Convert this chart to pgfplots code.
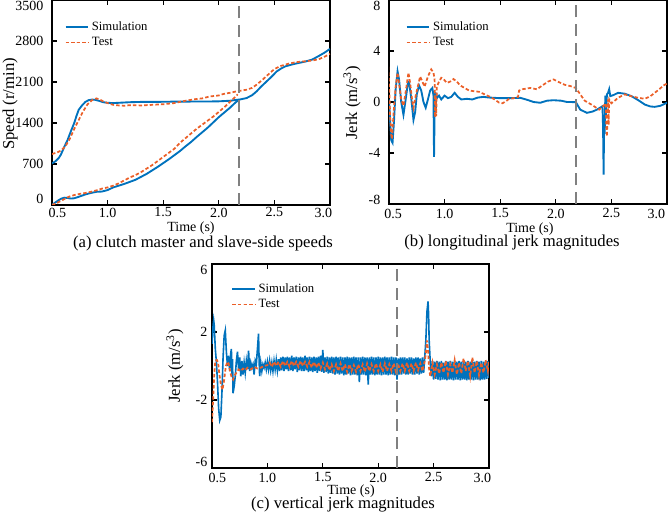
\documentclass[border=0pt]{standalone}
\usepackage{pgfplots}
\pgfplotsset{compat=1.18}
\usepackage{fontspec}
\setmainfont{Liberation Serif}
\definecolor{simblue}{RGB}{0,114,189}
\definecolor{testorange}{RGB}{235,95,40}
\definecolor{vgray}{RGB}{128,128,128}
\pgfplotsset{
  myaxis/.style={
    scale only axis,
    anchor=south west,
    xmin=0.5, xmax=3.0,
    xtick={0.5,1.0,1.5,2.0,2.5,3.0},
    xticklabels={{\kern8pt 0.5},1.0,1.5,2.0,2.5,{3.0\kern10pt}},
    /pgf/number format/assume math mode=true,
    tick align=inside,
    major tick length=4pt,
    axis line style={line width=0.9pt},
    every tick/.style={black,line width=0.9pt},
    ticklabel style={font=\fontsize{10.5}{12}\selectfont},
    yticklabel style={text height=7pt,text depth=0pt},
    label style={font=\fontsize{10.5}{12}\selectfont},
    legend style={draw=none,fill=none,font=\fontsize{9.5}{11}\selectfont,anchor=north west,
      legend cell align=left,row sep=-0.5pt},
    clip=true,
  },
  sim/.style={simblue,line width=1.4pt},
  tst/.style={testorange,line width=1.3pt,dash pattern=on 2.6pt off 1.6pt},
  vline/.style={vgray,line width=1.2pt,dash pattern=on 9pt off 5pt,forget plot},
}
\begin{document}
\begin{tikzpicture}
\path[use as bounding box] (0,0) rectangle (501.75pt,391.5pt);
% ---------------- (a)
\begin{axis}[myaxis,
  at={(39pt,237.75pt)}, width=208.5pt, height=153.75pt,
  ymin=0, ymax=3500, ytick={0,700,1400,2100,2800,3500},
  yticklabels={\raisebox{4.3pt}{0},700,1400,2100,2800,\raisebox{-4.5pt}{3500}},
  yticklabel style={xshift=-3pt},
  xticklabel style={yshift=1.5pt},
  xlabel={Time (s)}, ylabel={Speed (r/min)},
  xlabel style={at={(axis description cs:0.5,-0.112)},anchor=center},
  ylabel style={at={(axis description cs:-0.151,0.493)},anchor=center,font=\fontsize{12.5}{14}\selectfont},
  legend style={at={(axis description cs:0.03,0.92)}},
]
\addplot[sim] coordinates {(0.50,710) (0.53,745) (0.56,800) (0.58,860) (0.61,990) (0.64,1110) (0.67,1260) (0.70,1400) (0.72,1520) (0.74,1625) (0.77,1700) (0.80,1760) (0.83,1790) (0.86,1800) (0.89,1795) (0.92,1780) (0.96,1755) (1.00,1745) (1.05,1740) (1.10,1745) (1.20,1755) (1.30,1760) (1.40,1760) (1.50,1762) (1.60,1765) (1.70,1765) (1.80,1767) (1.90,1767) (2.00,1770) (2.10,1780) (2.16,1795) (2.20,1805) (2.25,1826) (2.30,1875) (2.34,1940) (2.38,2020) (2.43,2110) (2.48,2200) (2.52,2280) (2.56,2330) (2.60,2368) (2.66,2400) (2.72,2426) (2.78,2450) (2.84,2483) (2.90,2545) (2.95,2600) (3.00,2665)};
\addplot[tst] coordinates {(0.50,870) (0.55,900) (0.58,930) (0.62,1000) (0.66,1130) (0.70,1300) (0.74,1450) (0.78,1600) (0.82,1720) (0.86,1790) (0.90,1820) (0.93,1800) (0.96,1770) (1.00,1740) (1.05,1710) (1.10,1700) (1.15,1695) (1.20,1705) (1.30,1700) (1.40,1710) (1.50,1720) (1.60,1740) (1.70,1780) (1.80,1810) (1.85,1820) (1.92,1853) (2.00,1870) (2.04,1895) (2.10,1915) (2.16,1940) (2.25,1968) (2.30,2000) (2.34,2054) (2.40,2150) (2.46,2255) (2.50,2320) (2.55,2370) (2.63,2414) (2.70,2440) (2.78,2454) (2.85,2470) (2.90,2490) (2.95,2530) (3.00,2580)};
\addplot[sim,forget plot] coordinates {(0.50,0) (0.52,30) (0.55,70) (0.58,105) (0.61,125) (0.64,120) (0.67,110) (0.70,115) (0.74,140) (0.80,180) (0.85,206) (0.90,225) (0.95,230) (1.00,255) (1.05,300) (1.10,330) (1.15,360) (1.20,395) (1.25,430) (1.30,480) (1.35,530) (1.40,590) (1.45,650) (1.50,715) (1.55,780) (1.60,850) (1.65,920) (1.70,1000) (1.75,1075) (1.80,1160) (1.85,1240) (1.90,1320) (1.95,1410) (2.00,1500) (2.05,1580) (2.10,1660) (2.15,1750) (2.18,1795)};
\addplot[tst,forget plot] coordinates {(0.50,0) (0.55,40) (0.60,90) (0.65,140) (0.70,170) (0.75,190) (0.80,205) (0.85,225) (0.90,250) (0.95,280) (1.00,300) (1.05,330) (1.10,370) (1.15,420) (1.20,470) (1.25,510) (1.30,560) (1.35,620) (1.40,680) (1.45,750) (1.50,820) (1.55,890) (1.60,960) (1.65,1060) (1.70,1140) (1.75,1220) (1.80,1300) (1.85,1370) (1.90,1440) (1.95,1510) (2.00,1590) (2.05,1670) (2.10,1760) (2.15,1850) (2.17,1890)};
\addplot[vline] coordinates {(2.18,0) (2.18,3500)};
\legend{Simulation,Test}
\end{axis}
% ---------------- (b)
\begin{axis}[myaxis,
  at={(291.75pt,238.5pt)}, width=208.5pt, height=153pt,
  ymin=-8, ymax=8, ytick={-8,-4,0,4,8},
  yticklabels={\raisebox{3pt}{-8},-4,0,4,\raisebox{-4.5pt}{8}},
  xticklabels={{\kern6pt 0.5},1.0,1.5,2.0,2.5,{3.0\kern16pt}},
  yticklabel style={xshift=-3pt},
  xlabel={Time (s)}, ylabel={Jerk (m/s\textsuperscript{3})},
  xlabel style={at={(axis description cs:0.507,-0.123)},anchor=center},
  ylabel style={at={(axis description cs:-0.133,0.495)},anchor=center,font=\fontsize{12.5}{14}\selectfont},
  legend style={at={(axis description cs:0.045,0.92)}},
]
\addplot[sim] coordinates {(0.50,0.2) (0.51,-1.5) (0.52,-3.0) (0.532,-3.2) (0.545,-1.5) (0.56,1.0) (0.577,2.4) (0.59,1.8) (0.61,0.0) (0.63,-1.0) (0.65,0.2) (0.67,1.5) (0.68,1.6) (0.70,0.3) (0.72,-1.4) (0.735,-0.8) (0.75,0.6) (0.77,1.3) (0.79,0.9) (0.81,0.0) (0.83,-0.45) (0.85,0.2) (0.87,0.9) (0.89,1.1) (0.90,0.5) (0.905,-4.3) (0.91,-1.0) (0.915,0.8) (0.92,-0.9) (0.925,0.7) (0.93,0.3) (0.95,0.5) (0.97,0.2) (1.00,0.5) (1.03,0.3) (1.06,0.4) (1.09,0.72) (1.12,0.4) (1.15,0.2) (1.20,0.25) (1.25,0.2) (1.30,0.35) (1.35,0.4) (1.40,0.35) (1.50,0.3) (1.60,0.3) (1.68,0.33) (1.75,0.15) (1.80,0.0) (1.86,-0.06) (1.92,0.1) (1.98,0.14) (2.05,0.1) (2.10,0.0) (2.18,-0.01) (2.22,-0.6) (2.28,-0.85) (2.33,-0.75) (2.37,-0.6) (2.42,-0.33) (2.425,-2.0) (2.43,-5.7) (2.435,-1.0) (2.44,-2.5) (2.445,0.5) (2.45,-1.2) (2.46,0.6) (2.47,0.72) (2.48,1.0) (2.49,0.46) (2.52,0.55) (2.56,0.72) (2.62,0.65) (2.68,0.46) (2.74,0.15) (2.80,-0.2) (2.85,-0.35) (2.89,-0.38) (2.94,-0.3) (3.00,-0.06)};
\addplot[tst] coordinates {(0.49,3.2) (0.50,1.5) (0.51,-1.0) (0.52,-2.6) (0.527,-2.9) (0.54,-1.0) (0.56,1.2) (0.577,2.3) (0.59,1.5) (0.61,0.2) (0.63,-0.3) (0.65,0.8) (0.675,2.3) (0.69,1.5) (0.71,0.0) (0.72,-0.46) (0.74,0.5) (0.78,2.0) (0.80,1.6) (0.82,1.2) (0.85,2.0) (0.88,2.56) (0.90,2.3) (0.91,1.8) (0.915,-1.2) (0.92,0.5) (0.925,-1.1) (0.93,1.2) (0.95,1.6) (0.97,1.9) (0.99,1.8) (1.02,1.5) (1.05,1.6) (1.08,1.8) (1.11,1.6) (1.14,1.3) (1.18,1.1) (1.22,0.9) (1.26,0.85) (1.31,0.8) (1.36,0.6) (1.41,0.4) (1.45,0.2) (1.49,-0.05) (1.52,-0.1) (1.55,0.05) (1.58,0.25) (1.62,0.3) (1.66,0.4) (1.67,0.9) (1.70,1.0) (1.77,1.1) (1.83,1.0) (1.88,1.3) (1.93,1.6) (1.98,1.77) (2.03,1.55) (2.08,1.35) (2.13,1.25) (2.18,1.1) (2.22,0.6) (2.26,0.1) (2.32,-0.2) (2.39,-0.6) (2.43,-0.3) (2.45,-0.1) (2.455,-2.2) (2.46,-2.7) (2.465,-1.0) (2.47,0.2) (2.475,-1.8) (2.48,0.2) (2.50,-0.1) (2.53,0.1) (2.56,0.33) (2.62,0.6) (2.68,0.45) (2.74,0.33) (2.80,0.25) (2.85,0.45) (2.89,0.72) (2.93,1.0) (2.97,1.3) (3.00,1.45)};
\addplot[vline] coordinates {(2.18,-8) (2.18,8)};
\legend{Simulation,Test}
\end{axis}
% ---------------- (c)
\begin{axis}[myaxis,
  at={(159pt,40.5pt)}, width=207.75pt, height=153pt,
  ymin=-6, ymax=6, ytick={-6,-2,2,6},
  yticklabels={\raisebox{4.5pt}{-6},-2,2,\raisebox{-4.5pt}{6}},
  xlabel={Time (s)}, ylabel={Jerk (m/s\textsuperscript{3})},
  xlabel style={at={(axis description cs:0.502,-0.113)},anchor=center},
  ylabel style={at={(axis description cs:-0.134,0.5)},anchor=center,font=\fontsize{12.5}{14}\selectfont},
  legend style={at={(axis description cs:0.055,0.93)}},
]
\addplot[simblue,line width=1.2pt] coordinates {(0.50,1.3) (0.51,2.4) (0.515,2.7) (0.52,2.4) (0.53,1.0) (0.54,0.2) (0.55,-1.0) (0.56,-2.5) (0.57,-3.2) (0.58,-3.0) (0.59,-1.5) (0.60,0.5) (0.61,1.8) (0.62,2.1) (0.63,0.8) (0.64,0.0) (0.65,0.6) (0.66,-0.3) (0.67,0.8) (0.675,1.0) (0.68,-0.5) (0.685,0.4) (0.69,-1.6) (0.70,-1.2) (0.71,-0.6) (0.72,0.3) (0.73,0.84) (0.74,-0.2) (0.75,0.5) (0.76,-0.6) (0.77,0.3) (0.78,-0.5) (0.79,0.2) (0.80,-0.4) (0.81,0.3) (0.82,-0.2) (0.83,0.9) (0.84,-0.3) (0.85,0.2) (0.86,-0.1) (0.87,0.1) (0.88,-0.5) (0.89,0.3) (0.90,0.1) (0.91,1.0) (0.92,1.9) (0.925,0.4) (0.93,-0.6) (0.94,0.2) (0.95,-0.3) (0.96,0.1) (0.97,-0.1) (0.98,0.2) (0.99,-0.2) (1.00,0.25) (1.01,-0.2) (1.02,0.3) (1.03,-0.25) (1.04,0.2) (1.05,-0.3) (1.06,0.3) (1.07,-0.2) (1.08,0.35) (1.09,-0.25) (1.10,0.4) (1.11,-0.3) (1.12,0.5) (1.13,-0.25) (1.14,0.55) (1.15,-0.3) (1.16,0.5) (1.17,-0.2) (1.18,0.55) (1.19,-0.3) (1.20,0.5) (1.21,-0.25) (1.22,0.6) (1.23,-0.3) (1.24,0.5) (1.25,-0.2) (1.26,0.55) (1.27,-0.35) (1.28,0.5) (1.29,-0.25) (1.30,0.55) (1.31,-0.3) (1.32,0.5) (1.33,-0.3) (1.34,0.6) (1.35,-0.25) (1.36,0.5) (1.37,-0.35) (1.38,0.55) (1.39,-0.3) (1.40,0.5) (1.41,-0.35) (1.42,0.55) (1.43,-0.3) (1.44,0.5) (1.45,-0.4) (1.46,0.55) (1.47,-0.3) (1.48,0.6) (1.49,-0.35) (1.50,0.95) (1.51,-0.4) (1.52,0.5) (1.53,-0.35) (1.54,0.55) (1.55,-0.45) (1.56,0.5) (1.57,-0.4) (1.58,0.55) (1.59,-0.45) (1.60,0.5) (1.61,-0.5) (1.62,0.55) (1.63,-0.45) (1.64,0.5) (1.65,-0.5) (1.66,0.55) (1.67,-0.45) (1.68,0.5) (1.69,-0.55) (1.70,0.5) (1.71,-0.5) (1.72,0.55) (1.73,-0.45) (1.74,0.5) (1.75,-0.55) (1.76,0.5) (1.77,-0.5) (1.78,0.55) (1.79,-0.5) (1.80,0.5) (1.81,-0.55) (1.82,0.5) (1.83,-0.95) (1.84,0.5) (1.85,-0.5) (1.86,0.55) (1.87,-0.5) (1.88,0.5) (1.89,-0.55) (1.90,0.5) (1.91,-1.1) (1.92,0.5) (1.93,-0.5) (1.94,0.55) (1.95,-0.5) (1.96,0.5) (1.97,-0.55) (1.98,0.5) (1.99,-0.5) (2.00,0.55) (2.01,-0.5) (2.02,0.5) (2.03,-0.55) (2.04,0.5) (2.05,-0.5) (2.06,0.55) (2.07,-0.5) (2.08,0.5) (2.09,-0.55) (2.10,0.5) (2.11,-0.5) (2.12,0.55) (2.13,-0.5) (2.14,0.5) (2.15,-0.55) (2.16,0.5) (2.17,-0.8) (2.18,0.45) (2.19,-0.5) (2.20,0.5) (2.21,-0.5) (2.22,0.5) (2.23,-0.45) (2.24,0.5) (2.25,-0.5) (2.26,0.45) (2.27,-0.5) (2.28,0.5) (2.29,-0.45) (2.30,0.5) (2.31,-0.5) (2.32,0.45) (2.33,-0.5) (2.34,0.5) (2.35,-0.45) (2.36,0.5) (2.37,-0.5) (2.38,0.45) (2.39,-0.45) (2.40,0.5) (2.41,-0.4) (2.42,0.5) (2.43,1.5) (2.44,3.2) (2.45,3.8) (2.455,3.0) (2.46,1.5) (2.47,0.2) (2.48,-0.6) (2.49,0.3) (2.50,-0.8) (2.51,0.25) (2.52,-0.75) (2.53,0.3) (2.54,-0.8) (2.55,0.25) (2.56,-0.85) (2.57,0.3) (2.58,-0.8) (2.59,0.2) (2.60,-0.8) (2.61,0.3) (2.62,-0.85) (2.63,0.25) (2.64,-0.8) (2.65,0.3) (2.66,-0.8) (2.67,0.25) (2.68,-0.85) (2.69,0.3) (2.70,-0.8) (2.71,0.25) (2.72,-0.8) (2.73,0.3) (2.74,-0.85) (2.75,0.25) (2.76,-0.8) (2.77,0.3) (2.78,-0.8) (2.79,0.25) (2.80,-0.85) (2.81,0.3) (2.82,-0.8) (2.83,0.25) (2.84,-0.8) (2.85,0.3) (2.86,-0.85) (2.87,0.25) (2.88,-0.8) (2.89,0.3) (2.90,-0.8) (2.91,0.25) (2.92,-0.85) (2.93,0.3) (2.94,-0.8) (2.95,0.25) (2.96,-0.8) (2.97,0.3) (2.98,-0.75) (2.99,0.3) (3.00,-0.7)};
\addplot[tst] coordinates {(0.50,-3.3) (0.51,-2.0) (0.52,-0.5) (0.53,0.3) (0.545,0.35) (0.555,0.2) (0.565,-0.4) (0.58,-1.1) (0.595,-1.4) (0.61,-0.8) (0.625,0.0) (0.64,0.25) (0.65,0.15) (0.66,-0.2) (0.67,-0.5) (0.68,-0.7) (0.69,-0.8) (0.70,-0.6) (0.72,-0.4) (0.74,-0.2) (0.76,-0.3) (0.78,-0.15) (0.80,-0.25) (0.82,-0.1) (0.85,-0.2) (0.88,-0.05) (0.91,-0.15) (0.94,-0.1) (0.97,0.0) (1.00,0.05) (1.02,0.2) (1.04,-0.05) (1.06,0.25) (1.08,0.0) (1.10,0.25) (1.12,-0.05) (1.14,0.3) (1.16,0.0) (1.18,0.25) (1.20,-0.05) (1.22,0.3) (1.24,0.0) (1.26,0.25) (1.28,-0.05) (1.30,0.3) (1.32,0.0) (1.34,0.25) (1.36,-0.05) (1.38,0.25) (1.40,-0.1) (1.42,0.25) (1.44,-0.1) (1.46,0.2) (1.48,-0.15) (1.50,0.2) (1.52,-0.2) (1.54,0.15) (1.56,-0.25) (1.58,0.1) (1.60,-0.3) (1.62,0.1) (1.64,-0.3) (1.66,0.15) (1.68,-0.3) (1.70,0.1) (1.72,-0.35) (1.74,0.1) (1.76,-0.3) (1.78,0.05) (1.80,-0.35) (1.82,0.1) (1.84,-0.3) (1.86,0.1) (1.88,-0.35) (1.90,0.15) (1.92,-0.3) (1.94,0.1) (1.96,-0.3) (1.98,0.15) (2.00,-0.3) (2.02,0.1) (2.04,-0.35) (2.06,0.15) (2.08,-0.3) (2.10,0.1) (2.12,-0.3) (2.14,0.15) (2.16,-0.35) (2.18,0.1) (2.20,-0.3) (2.22,0.15) (2.24,-0.3) (2.26,0.2) (2.28,-0.3) (2.30,0.15) (2.32,-0.3) (2.34,0.2) (2.36,-0.25) (2.38,0.15) (2.40,-0.3) (2.42,0.3) (2.43,0.7) (2.44,1.5) (2.45,0.9) (2.46,-0.2) (2.47,-0.6) (2.49,0.2) (2.51,-0.5) (2.53,0.1) (2.55,-0.45) (2.57,0.2) (2.59,-0.4) (2.61,0.3) (2.63,-0.5) (2.65,0.1) (2.67,-0.4) (2.69,0.35) (2.71,-0.5) (2.73,0.2) (2.75,-0.45) (2.77,0.45) (2.79,-0.3) (2.81,0.3) (2.83,-0.6) (2.85,0.5) (2.87,-0.4) (2.89,0.3) (2.91,-0.55) (2.93,0.2) (2.95,-0.4) (2.97,0.35) (2.99,-0.3) (3.00,0.3)};
\addplot[vline] coordinates {(2.17,-6) (2.17,6)};
\legend{Simulation,Test}
\end{axis}
% captions
\node[font=\fontsize{12.5}{14}\selectfont] at (152.25pt,209.25pt) {(a) clutch master and slave-side speeds};
\node[font=\fontsize{12.5}{14}\selectfont] at (384pt,209.25pt) {(b) longitudinal jerk magnitudes};
\node[font=\fontsize{12.5}{14}\selectfont] at (257.25pt,12.75pt) {(c) vertical jerk magnitudes};
\end{tikzpicture}
\end{document}
